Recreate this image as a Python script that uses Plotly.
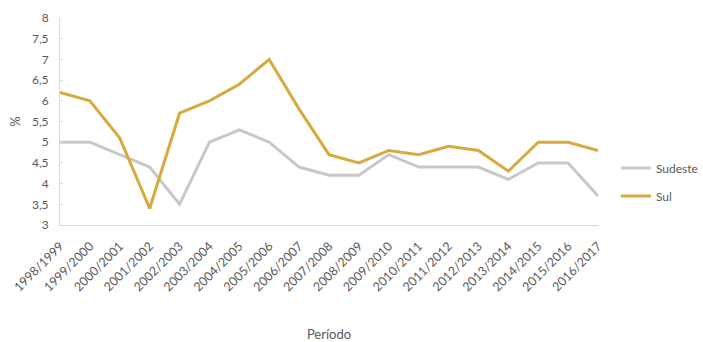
import plotly.graph_objects as go

periodos = ["1998/1999", "1999/2000", "2000/2001", "2001/2002", "2002/2003",
            "2003/2004", "2004/2005", "2005/2006", "2006/2007", "2007/2008",
            "2008/2009", "2009/2010", "2010/2011", "2011/2012", "2012/2013",
            "2013/2014", "2014/2015", "2015/2016", "2016/2017"]
sudeste = [5.0, 5.0, 4.7, 4.4, 3.5, 5.0, 5.3, 5.0, 4.4, 4.2,
           4.2, 4.7, 4.4, 4.4, 4.4, 4.1, 4.5, 4.5, 3.7]
sul = [6.2, 6.0, 5.1, 3.4, 5.7, 6.0, 6.4, 7.0, 5.8, 4.7,
       4.5, 4.8, 4.7, 4.9, 4.8, 4.3, 5.0, 5.0, 4.8]

txt = "#595959"
axis_col = "#d9d9d9"

fig = go.Figure()
fig.add_trace(go.Scatter(x=periodos, y=sudeste, name="Sudeste", mode="lines",
                         line=dict(color="#c8c8c8", width=3), legendgroup="a"))
fig.add_trace(go.Scatter(x=periodos, y=sul, name="Sul", mode="lines",
                         line=dict(color="#d6aa3c", width=3), legendgroup="b"))

fig.update_layout(
    width=703, height=342,
    margin=dict(l=60, r=105, t=18, b=117, autoexpand=False),
    paper_bgcolor="white", plot_bgcolor="white",
    font=dict(family="Lato, Liberation Sans, sans-serif", size=12, color=txt),
    separators=",.",
    showlegend=True,
    legend=dict(x=1.195, y=0.345, xanchor="right", yanchor="top",
                traceorder="grouped", tracegroupgap=9,
                font=dict(size=12, color=txt), itemwidth=30,
                bgcolor="rgba(0,0,0,0)"),
    xaxis=dict(tickangle=-45, showgrid=False, showline=True, linecolor=axis_col,
               linewidth=1, ticks="", ticklabelstandoff=8, automargin=False,
               tickfont=dict(size=12.5, color=txt),
               title=dict(text="Período", font=dict(size=13, color=txt), standoff=46)),
    yaxis=dict(range=[3, 8], dtick=0.5, showgrid=False, showline=True,
               linecolor=axis_col, linewidth=1, ticks="inside", ticklen=3,
               tickcolor=axis_col, zeroline=False, ticklabelstandoff=8,
               automargin=False, tickfont=dict(size=12, color=txt),
               title=dict(text="%", font=dict(size=13, color=txt), standoff=8)),
)

fig.write_html("out.html")
